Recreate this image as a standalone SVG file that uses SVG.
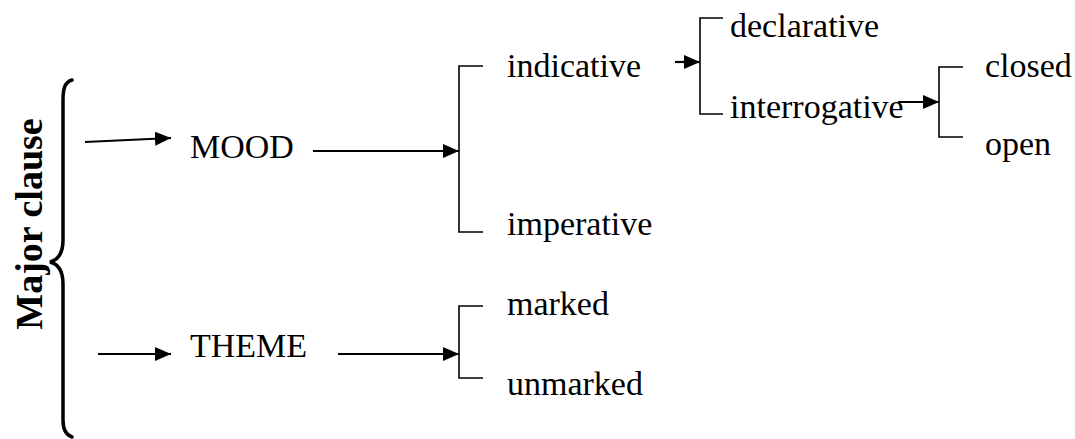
<svg xmlns="http://www.w3.org/2000/svg" width="1075" height="439" viewBox="0 0 1075 439" font-family="Liberation Serif, Times New Roman, DejaVu Serif, serif">
  <style>
    text { font-family: "Liberation Serif", "Times New Roman", "DejaVu Serif", serif; }
    .lbl { font-size: 34px; fill: #000; }
    .title { font-size: 38px; font-weight: bold; fill: #000; }
    .arrow { stroke: #000; stroke-width: 2.2; fill: none; marker-end: url(#head); }
    .bracket { stroke: #000; stroke-width: 1.6; fill: none; }
    .brace { stroke: #000; stroke-width: 3.5; fill: none; stroke-linecap: round; }
  </style>
  <defs>
    <marker id="head" markerUnits="userSpaceOnUse" markerWidth="17" markerHeight="14" refX="16" refY="7" orient="auto">
      <path d="M0,0 L16,7 L0,14 Z" fill="#000"/>
    </marker>
  </defs>
  <rect width="1075" height="439" fill="#fff"/>

  <!-- side title and brace -->
  <g id="major-clause">
    <text class="title" text-anchor="middle" transform="translate(42,224) rotate(-90)">Major clause</text>
    <path class="brace" d="M72,80 C65,82 63,88 63,100 L63,240 C63,254 58,260 50,262 C58,264 63,270 63,284 L63,420 C63,430 66,435 72,437"/>
  </g>

  <g id="mood"><text class="lbl" x="190" y="158">MOOD</text></g>
  <g id="theme"><text class="lbl" x="190" y="357">THEME</text></g>
  <g id="indicative"><text class="lbl" x="507" y="77">indicative</text></g>
  <g id="imperative"><text class="lbl" x="507" y="235">imperative</text></g>
  <g id="marked"><text class="lbl" x="507" y="315">marked</text></g>
  <g id="unmarked"><text class="lbl" x="507" y="395">unmarked</text></g>
  <g id="declarative"><text class="lbl" x="730" y="37">declarative</text></g>
  <g id="interrogative"><text class="lbl" x="730" y="118">interrogative</text></g>
  <g id="closed"><text class="lbl" x="985" y="77">closed</text></g>
  <g id="open"><text class="lbl" x="985" y="155">open</text></g>

  <g id="connectors">
    <!-- arrows -->
    <line class="arrow" x1="85" y1="142" x2="171" y2="138"/>
    <line class="arrow" x1="98" y1="354" x2="171" y2="354"/>
    <line class="arrow" x1="313" y1="151" x2="459" y2="151"/>
    <line class="arrow" x1="338" y1="354" x2="459" y2="354"/>
    <line class="arrow" x1="675" y1="62" x2="700" y2="62"/>
    <line class="arrow" x1="898" y1="102" x2="939" y2="102"/>
    <!-- choice brackets -->
    <path class="bracket" d="M483,66 H459 V232 H483"/>
    <path class="bracket" d="M483,306 H459 V378 H483"/>
    <path class="bracket" d="M723,18 H700 V114 H723"/>
    <path class="bracket" d="M963,67 H939 V137 H963"/>
  </g>
</svg>
